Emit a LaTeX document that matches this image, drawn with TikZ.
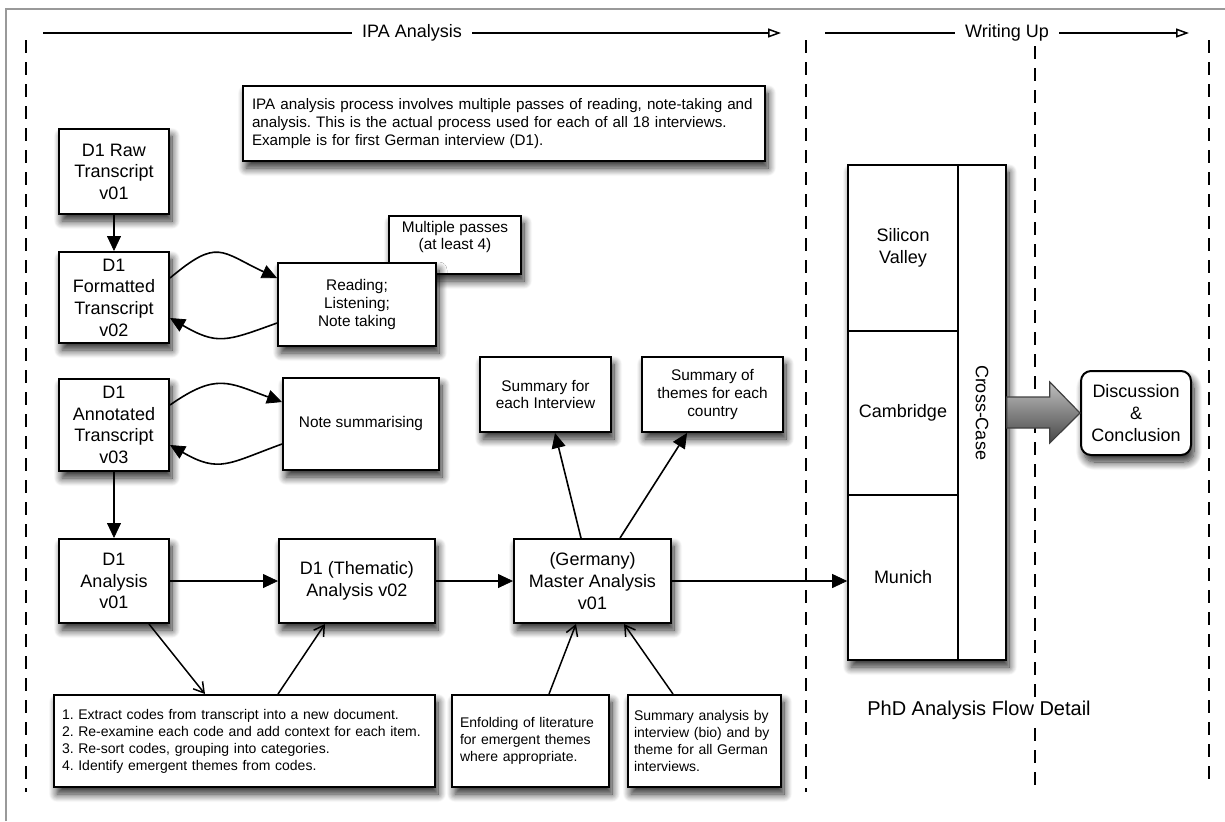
\documentclass[tikz,border=0pt]{standalone}
\usepackage{fontspec}
\setmainfont{Liberation Sans}
\usetikzlibrary{arrows.meta,shadows.blur,calc}
\frenchspacing

\begin{document}
\begin{tikzpicture}[x=0.5pt,y=-0.5pt,
  softshadow/.style={blur shadow={shadow xshift=1.5pt, shadow yshift=-3.5pt,
      shadow blur radius=4pt, shadow blur steps=12, shadow opacity=85}},
  box/.style={draw=black, line width=1pt, fill=white, inner sep=1pt, align=center, softshadow},
  big/.style={box, font=\fontsize{9}{10.8}\selectfont},
  mid/.style={box, font=\fontsize{7.7}{8.8}\selectfont},
  para/.style={box, align=left, inner xsep=4pt, font=\fontsize{7}{8.5}\selectfont},
  cell/.style={draw=black, line width=0.8pt, fill=white, inner sep=1pt, align=center,
    font=\fontsize{9}{10.8}\selectfont},
  arr/.style={draw=black, line width=0.8pt,
    -{Triangle[length=7.5pt,width=7pt,fill=black,line width=0.4pt]}},
  oarr/.style={line width=0.75pt, -{Straight Barb[length=5pt,width=6pt]}},
  hdr/.style={line width=0.75pt, -{Triangle[open,length=6.5pt,width=4.5pt]}},
  lane/.style={line width=0.75pt, dash pattern=on 6.5pt off 4.5pt},
  hdrtext/.style={fill=white, inner xsep=5pt, font=\fontsize{9}{10.8}\selectfont}
]
\useasboundingbox (0,0) rectangle (1225,821);

% outer frame
\draw[black!40, line width=1pt] (6,821) -- (6,9) -- (1225,9);

% phase headers
\draw[hdr] (43,33) -- node[hdrtext] (ipahdr) {IPA Analysis} (781,33);
\draw[hdr] (825,33) -- node[hdrtext] (writehdr) {Writing Up} (1189,33);

% lane separators
\draw[lane] (26,40) -- (26,792);
\draw[lane] (806,40) -- (806,792);
\draw[lane] (1035,46) -- (1035,790);
\draw[lane] (1209,40) -- (1209,788);

% explanatory note
\node[para, text width=252pt, minimum height=37.5pt, inner xsep=4.5pt,
      font=\fontsize{7.6}{8.9}\selectfont] (ipa) at (504,123.5)
  {IPA analysis process involves multiple passes of reading, note-taking and\\
   analysis. This is the actual process used for each of all 18 interviews.\\
   Example is for first German interview (D1).};

% transcript chain
\node[big, minimum width=55pt, minimum height=42.5pt] (raw) at (114,171.5) {D1 Raw\\Transcript\\v01};
\node[big, minimum width=55pt, minimum height=45.5pt] (fmt) at (114,297.5) {D1\\Formatted\\Transcript\\v02};
\node[big, minimum width=55pt, minimum height=46pt] (ann) at (114,425) {D1\\Annotated\\Transcript\\v03};
\node[big, minimum width=55pt, minimum height=42pt] (ana) at (114,581) {D1\\Analysis\\v01};
\node[big, minimum width=78pt, minimum height=42pt] (them) at (357,581) {D1 (Thematic)\\Analysis v02};
\node[big, minimum width=78.5pt, minimum height=42pt] (master) at (592.5,581) {(Germany)\\Master Analysis\\v01};

% reading passes
\node[mid, minimum width=66pt, minimum height=29pt] (multi) at (455,245) {};
\node[font=\fontsize{7.7}{8.8}\selectfont, align=center] (multitxt) at (455,237) {Multiple passes\\(at least 4)};
\node[mid, minimum width=79pt, minimum height=41.5pt] (reading) at (357,304.5) {Reading;\\Listening;\\Note taking};
\node[mid, minimum width=78pt, minimum height=46pt] (notesum) at (361,424) {Note summarising};

% summaries
\node[mid, minimum width=65.5pt, minimum height=37.5pt] (sum1) at (545.5,394.5) {Summary for\\each Interview};
\node[mid, minimum width=70.5pt, minimum height=37.5pt] (sum2) at (712.5,394.5) {Summary of\\themes for each\\country};

% method notes
\node[para, text width=182.5pt, minimum height=46pt] (steps) at (244.5,741)
  {1. Extract codes from transcript into a new document.\\
   2. Re-examine each code and add context for each item.\\
   3. Re-sort codes, grouping into categories.\\
   4. Identify emergent themes from codes.};
\node[para, text width=70.5pt, minimum height=46pt] (enfold) at (530.5,741)
  {Enfolding of literature\\for emergent themes\\where appropriate.};
\node[para, text width=70.5pt, minimum height=46pt, inner xsep=3pt] (sumana) at (704.5,741)
  {Summary analysis by\\interview (bio) and by\\theme for all German\\interviews.};

% case block
\path[fill=white, softshadow] (848,165) rectangle (1006,660);
\node[cell, minimum width=55pt, minimum height=83pt] (sv) at (903,248) {Silicon\\Valley};
\node[cell, minimum width=55pt, minimum height=82pt] (cam) at (903,413) {Cambridge};
\node[cell, minimum width=55pt, minimum height=82.5pt] (mun) at (903,577.5) {Munich};
\node[cell, minimum width=24pt, minimum height=247.5pt] (cross) at (982,412.5) {};
\node[font=\fontsize{9}{10.8}\selectfont, rotate=-90] (crosstxt) at (cross.center) {Cross-Case};
\draw[line width=1pt] (848,165) rectangle (1006,660);

% conclusion
\node[big, rounded corners=5pt, minimum width=55pt, minimum height=42pt] (disc) at (1136,413)
  {Discussion\\\&\\Conclusion};

\node[fill=white, inner sep=1pt, font=\fontsize{10}{12}\selectfont] (title) at (979,710) {PhD Analysis Flow Detail};

% main flow
\draw[arr] (raw.south) -- (fmt.north);
\draw[arr] (ann.south) -- (ana.north);
\draw[arr] (ana.east) -- (them.west);
\draw[arr] (them.east) -- (master.west);
\draw[arr] (master.east) -- (master.east -| mun.west);

% review loops
\draw[arr] ([yshift=9.75pt]fmt.east) to[out=40,in=155,looseness=1.5] ([yshift=13.25pt]reading.west);
\draw[arr] ([yshift=-9.25pt]reading.west) to[out=200,in=330,looseness=1.3] ([yshift=-10.25pt]fmt.east);
\draw[arr] ([yshift=10pt]ann.east) to[out=35,in=160,looseness=1.3] ([yshift=11pt]notesum.west);
\draw[arr] ([yshift=-10pt]notesum.west) to[out=200,in=330,looseness=1.3] ([yshift=-10pt]ann.east);

% coding steps and inputs
\draw[oarr] ([xshift=17.5pt]ana.south) -- ([xshift=-19.75pt]steps.north);
\draw[oarr] ([xshift=16.75pt]steps.north) -- ([xshift=-16pt]them.south);
\draw[oarr] ([xshift=9.25pt]enfold.north) -- ([xshift=-8.25pt]master.south);
\draw[oarr] ([xshift=-15.75pt]sumana.north) -- ([xshift=15.75pt]master.south);

% outputs
\draw[arr] ([xshift=-5.75pt]master.north) -- ([xshift=4.75pt]sum1.south);
\draw[arr] ([xshift=13.75pt]master.north) -- ([xshift=-12.75pt]sum2.south);

% block arrow into the conclusion
\path[draw=black!75, line width=0.6pt, top color=black!25, bottom color=black!72]
  ($(cross.east)+(0,-15.5)$) -- ($(cross.east)+(43,-15.5)$) -- ($(cross.east)+(43,-30.5)$)
  -- (disc.west) -- ($(cross.east)+(43,30.5)$) -- ($(cross.east)+(43,15.5)$)
  -- ($(cross.east)+(0,15.5)$) -- cycle;
\end{tikzpicture}
\end{document}
